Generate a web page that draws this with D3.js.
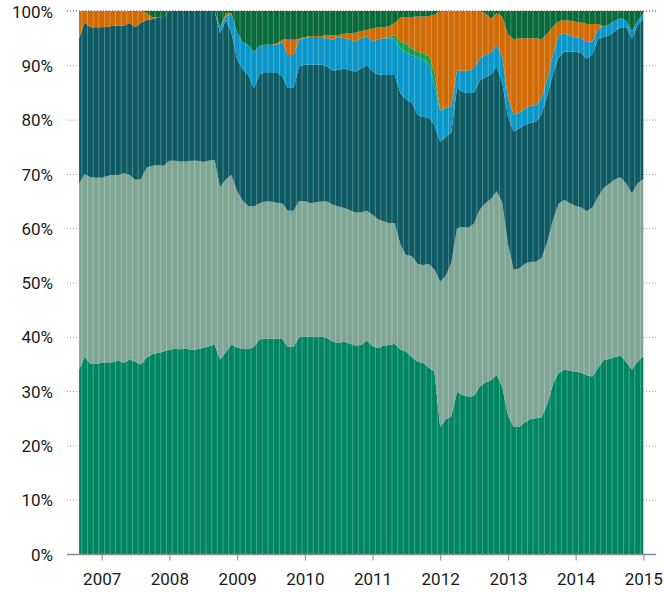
<!DOCTYPE html>
<html>
<head>
<meta charset="utf-8">
<script src="https://cdn.jsdelivr.net/npm/d3@7"></script>
<style>
  html, body { margin: 0; padding: 0; background: #fff; }
  svg { display: block; }
  text { font-family: Roboto, "Liberation Sans", sans-serif; }
</style>
</head>
<body>
<svg id="chart" width="664" height="592"></svg>
<script>
// ---- categories (months) ----
const months = [
  "2006-09","2006-10","2006-11","2006-12",
  "2007-01","2007-02","2007-03","2007-04","2007-05","2007-06","2007-07","2007-08","2007-09","2007-10","2007-11","2007-12",
  "2008-01","2008-02","2008-03","2008-04","2008-05","2008-06","2008-07","2008-08","2008-09","2008-10","2008-11","2008-12",
  "2009-01","2009-02","2009-03","2009-04","2009-05","2009-06","2009-07","2009-08","2009-09","2009-10","2009-11","2009-12",
  "2010-01","2010-02","2010-03","2010-04","2010-05","2010-06","2010-07","2010-08","2010-09","2010-10","2010-11","2010-12",
  "2011-01","2011-02","2011-03","2011-04","2011-05","2011-06","2011-07","2011-08","2011-09","2011-10","2011-11","2011-12",
  "2012-01","2012-02","2012-03","2012-04","2012-05","2012-06","2012-07","2012-08","2012-09","2012-10","2012-11","2012-12",
  "2013-01","2013-02","2013-03","2013-04","2013-05","2013-06","2013-07","2013-08","2013-09","2013-10","2013-11","2013-12",
  "2014-01","2014-02","2014-03","2014-04","2014-05","2014-06","2014-07","2014-08","2014-09","2014-10","2014-11","2014-12",
  "2015-01"
];

// ---- series values (share, %) ----
const green = [
  34.0,36.3,35.0,35.0,35.2,35.3,35.3,35.6,35.2,35.8,35.4,34.9,
  36.2,36.8,37.0,37.3,37.6,37.8,37.7,37.8,37.6,37.7,38.0,38.2,
  38.6,35.8,37.2,38.6,38.0,37.8,37.7,38.1,39.5,39.7,39.7,39.6,
  39.6,38.1,38.1,39.9,40.0,40.0,39.9,40.0,39.8,39.1,38.9,39.1,
  38.7,38.4,38.5,39.3,38.3,37.9,38.4,38.5,38.7,37.6,37.3,36.3,
  35.4,35.2,34.3,33.6,23.4,24.8,25.3,29.9,29.3,29.0,29.1,30.8,
  31.6,32.0,32.9,30.8,25.5,23.4,23.4,24.2,24.8,25.0,25.2,27.6,
  31.3,33.3,34.0,33.7,33.6,33.4,32.9,32.7,34.2,35.7,35.9,36.3,
  36.5,35.3,34.0,35.4,36.4
];
const grayGreen = [
  34.2,33.7,34.4,34.3,34.1,34.3,34.5,34.2,34.9,34.0,33.5,34.1,
  35.0,34.7,34.6,34.2,34.8,34.6,34.6,34.5,34.8,34.7,34.2,34.2,
  34.0,31.8,31.8,31.2,28.8,27.2,26.4,25.9,25.1,25.2,25.2,25.1,
  25.0,25.1,25.1,25.1,25.0,24.6,24.9,24.9,25.1,25.2,25.1,24.6,
  24.6,24.5,24.4,23.9,24.2,23.7,22.9,22.4,22.2,19.4,17.7,18.6,
  18.0,18.0,19.1,18.8,26.8,26.5,28.3,30.1,30.9,31.1,31.7,32.6,
  33.0,33.4,33.9,34.0,31.5,28.9,29.2,29.2,29.0,28.8,29.3,29.9,
  30.2,31.2,31.2,30.9,30.5,30.4,30.2,31.1,31.5,31.7,32.3,32.7,
  32.9,32.9,32.4,32.9,32.6
];
const darkTeal = [
  26.8,27.9,27.6,27.7,27.7,27.5,27.5,27.5,27.2,28.0,28.1,28.8,
  27.2,27.0,27.2,27.4,27.6,27.6,27.7,27.7,27.6,27.6,27.8,27.6,
  27.4,28.3,29.3,26.2,24.2,24.2,24.1,21.8,23.7,23.8,23.8,24.0,
  23.4,22.6,22.6,24.8,25.1,25.5,25.3,25.2,24.9,24.7,25.2,25.7,
  25.8,25.9,26.5,26.8,26.4,26.7,26.9,27.3,27.3,27.8,28.7,28.2,
  27.5,27.3,27.0,26.6,25.7,25.5,24.0,25.9,24.9,24.8,24.1,23.8,
  23.2,22.9,23.0,22.0,23.5,25.5,25.7,25.6,25.6,25.8,26.5,27.0,
  27.0,27.0,27.3,27.9,28.4,28.4,28.1,28.2,29.1,27.8,27.3,27.3,
  27.6,28.8,28.5,29.1,29.5
];
const lightBlue = [
  0,0,0,0,0,0,0,0,0,0,0,0,
  0,0,0,0,0,0,0,0,0,0,0,0,
  0,1.1,0.7,3.4,5.0,5.0,5.6,6.7,5.3,5.1,5.1,5.1,
  6.3,6.1,6.1,4.9,4.9,5.1,5.1,5.1,5.2,5.7,6.0,5.6,
  5.6,5.6,5.6,5.3,5.5,6.5,6.8,6.8,6.7,8.3,8.6,8.8,
  10.6,10.5,10.0,7.7,5.6,5.4,4.9,3.2,3.9,4.1,4.6,4.0,
  4.2,4.0,4.0,4.8,3.5,3.1,2.9,3.0,3.1,3.1,3.0,3.0,
  3.5,4.0,3.4,3.0,2.6,2.8,2.9,2.4,1.8,2.0,2.0,1.9,
  1.7,1.2,1.4,0.8,1.0
];
const purple = [
  0,0,0,0,0,0,0,0,0,0,0,0,
  0,0,0,0,0,0,0,0,0,0,0,0,
  0,0,0,0,0,0,0,0,0,0,0,0,
  0,0,0,0,0,0,0,0,0,0,0,0,
  0,0,0,0,0,0,0,0,0,0,0,0,
  0,0,0,0,0,0,0,0,0,0,0,0,
  0,0,0,0,0,0,0,0,0,0,0,0,
  0,0,0,0,0,0,0.3,0,0,0,0,0,
  0,0,0,0,0
];
const brightGreen = [
  0,0,0,0,0,0,0,0,0,0,0,0,
  0,0,0,0,0,0,0,0,0,0,0,0,
  0,0,0,0,0,0,0,0,0,0,0,0,
  0,0,0,0,0,0,0,0,0,0,0,0,
  0,0,0,0,0,0,0,0.2,0.7,1.3,1.7,1.2,
  1.0,1.2,1.3,2.1,0.3,0,0,0,0,0,0,0,
  0,0,0,0,0,0,0,0,0,0,0,0,
  0,0,0,0,0,0,0,0,0,0,0,0,
  0,0,0,0,0
];
const orange = [
  5.0,2.1,3.0,3.0,3.0,2.9,2.7,2.7,2.7,2.2,3.0,2.2,
  1.3,0.3,0,0,0,0,0,0,0,0,0,0,
  0,0,0.6,0.2,0,0,0,0,0,0,0,0.2,
  0.4,2.6,2.6,0.2,0.2,0.2,0.2,0.2,0.6,0.9,0.4,0.8,
  1.2,1.6,1.3,1.2,2.4,2.2,2.0,2.0,2.2,4.4,4.9,5.8,
  6.5,6.8,7.4,10.5,18.2,17.8,17.5,10.9,11.0,11.0,10.5,8.8,
  7.6,6.3,5.8,7.4,11.7,13.9,13.8,13.0,12.5,12.3,10.8,8.3,
  5.2,2.6,2.5,2.7,2.9,2.9,3.2,3.2,1.0,0,0,0,
  0,0,0,0,0
];
const red = [
  0,0,0,0,0,0,0,0,0,0,0,0,
  0,0,0,0,0,0,0,0,0,0,0,0,
  0,0,0,0,0,0,0,0,0,0,0,0,
  0,0.3,0.3,0,0,0,0,0,0,0,0,0,
  0,0,0,0,0,0,0,0,0,0,0,0,
  0,0,0,0,0,0,0,0,0,0,0,0,
  0,0,0,0,0,0,0,0,0,0,0,0,
  0,0,0,0,0,0,0,0,0,0,0,0,
  0,0,0,0,0
];
const darkGreen = [
  0,0,0,0,0,0,0,0,0,0,0,0,
  0.3,1.2,1.2,1.1,0,0,0,0,0,0,0,0,
  0,3.0,0.4,0.4,4.0,5.8,6.2,7.5,6.4,6.2,6.2,6.0,
  5.3,5.2,5.2,5.1,4.8,4.6,4.6,4.6,4.4,4.4,4.4,4.2,
  4.1,4.0,3.7,3.5,3.2,3.0,3.0,2.8,2.2,1.2,1.1,1.1,
  1.0,1.0,0.9,0.7,0,0,0,0,0,0,0,0,
  0.4,1.4,0.4,1.0,4.3,5.2,5.0,5.0,5.0,5.0,5.2,4.2,
  2.8,1.9,1.6,1.8,2.0,2.1,2.4,2.4,2.4,2.8,2.5,1.8,
  1.3,1.8,3.7,1.8,0.5
];

// ---- tick labels ----
const yTicks = [0, 0.1, 0.2, 0.3, 0.4, 0.5, 0.6, 0.7, 0.8, 0.9, 1.0];
const xTickYears = ["2007","2008","2009","2010","2011","2012","2013","2014","2015"];

// ---- series setup ----
const seriesKeys = ["green","grayGreen","darkTeal","lightBlue","purple","brightGreen","orange","red","darkGreen"];
const seriesData = {green, grayGreen, darkTeal, lightBlue, purple, brightGreen, orange, red, darkGreen};
const colors = {
  green: "#008562", grayGreen: "#7fa594", darkTeal: "#0d5a63", lightBlue: "#0996c8",
  purple: "#8a1fc4", brightGreen: "#13a04a", orange: "#cf6a04", red: "#d42a1e", darkGreen: "#076a38"
};

const parse = d3.timeParse("%Y-%m");
const table = months.map((m, i) => {
  const row = {date: parse(m)};
  seriesKeys.forEach(k => row[k] = seriesData[k][i]);
  return row;
});

const svg = d3.select("#chart");

const x = d3.scaleTime()
  .domain([new Date(2007, 0, 1), new Date(2015, 0, 1)])
  .range([101.7, 643.3]);
const y = d3.scaleLinear().domain([0, 1]).range([554, 11]);

const stack = d3.stack().keys(seriesKeys)
  .order(d3.stackOrderNone).offset(d3.stackOffsetExpand);
const stacked = stack(table);

// gridlines (dotted), behind
const gridG = svg.append("g");
gridG.selectAll("line").data(yTicks.filter(t => t > 0)).join("line")
  .attr("x1", 67).attr("x2", 656)
  .attr("y1", d => y(d) + 0.5).attr("y2", d => y(d) + 0.5)
  .attr("stroke", "#9a9a9a").attr("stroke-width", 1)
  .attr("stroke-dasharray", "1,2");

const area = d3.area()
  .x(d => x(d.data.date))
  .y0(d => y(d[0]))
  .y1(d => y(d[1]))
  .curve(d3.curveLinear);

svg.append("g").selectAll("path").data(stacked).join("path")
  .attr("d", area)
  .attr("fill", d => colors[d.key]);

// vertical stripes between months
const stripeX = table.slice(1).map((d, i) => (x(table[i].date) + x(d.date)) / 2);
svg.append("g").selectAll("line").data(stripeX).join("line")
  .attr("x1", d => d).attr("x2", d => d)
  .attr("y1", y(1)).attr("y2", y(0))
  .attr("stroke", "#ffffff").attr("stroke-opacity", 0.28).attr("stroke-width", 1);

// top dotted line above area
svg.append("line")
  .attr("x1", 67).attr("x2", 656)
  .attr("y1", y(1) - 0.5).attr("y2", y(1) - 0.5)
  .attr("stroke", "#9a9a9a").attr("stroke-width", 1)
  .attr("stroke-dasharray", "1,2");

// y labels
const yAxis = d3.axisLeft(y).tickValues(yTicks).tickFormat(d3.format(".0%")).tickSize(0).tickPadding(0);
const yG = svg.append("g").attr("transform", "translate(53,0)").call(yAxis);
yG.select(".domain").remove();
yG.selectAll("text").attr("font-size", 17).attr("fill", "#1a1a1a")
  .attr("font-family", "Roboto, sans-serif").attr("dy", "0.36em");

// x axis
const xAxis = d3.axisBottom(x)
  .tickValues(xTickYears.map(s => d3.timeParse("%Y")(s)))
  .tickFormat(d3.timeFormat("%Y")).tickSize(6).tickPadding(12);
const xG = svg.append("g").attr("transform", "translate(0,554.5)").call(xAxis);
xG.select(".domain").remove();
xG.selectAll(".tick line").attr("stroke", "#9a9a9a").attr("stroke-width", 1.2);
xG.selectAll("text").attr("font-size", 17).attr("fill", "#1a1a1a")
  .attr("font-family", "Roboto, sans-serif");
svg.append("line").attr("x1", 67).attr("x2", 656).attr("y1", 554.5).attr("y2", 554.5)
  .attr("stroke", "#8a8a8a").attr("stroke-width", 1.3);
</script>
</body>
</html>
